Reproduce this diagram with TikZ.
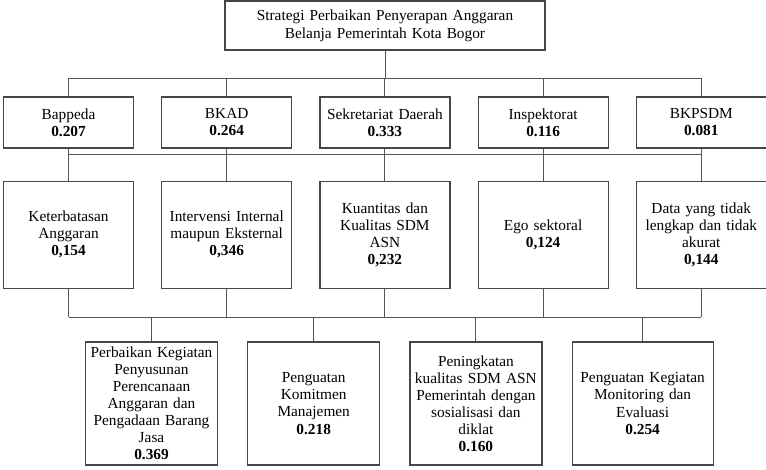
\documentclass[tikz,border=0pt]{standalone}
\usepackage{fontspec}
\setmainfont{Liberation Serif}
\usetikzlibrary{positioning}
\definecolor{boxline}{RGB}{70,70,70}
\definecolor{wire}{RGB}{85,85,85}

\begin{document}
\begin{tikzpicture}[x=0.75pt, y=-0.75pt, node distance=20.25pt]
  \tikzstyle{goal} = [rectangle, draw=boxline, line width=0.9pt, align=center, text width=236pt, minimum width=240pt, minimum height=36.75pt, inner sep=1pt, font=\fontsize{11.5}{13.5}\selectfont]
  \tikzstyle{crit} = [rectangle, draw=boxline, line width=0.9pt, align=center, text width=94pt, minimum width=97.5pt, minimum height=38.25pt, inner sep=1pt, font=\fontsize{11.5}{12.8}\selectfont]
  \tikzstyle{prob} = [crit, minimum height=80.25pt]
  \tikzstyle{alt} = [crit, text width=96pt, minimum width=99pt, minimum height=92.25pt]
  \tikzstyle{wire} = [draw=wire, line width=0.75pt]

  \useasboundingbox (0,0) rectangle (766,470);

  \node [goal] (goal) at (385,25.5) {Strategi Perbaikan Penyerapan Anggaran\\Belanja Pemerintah Kota Bogor};

  \node [crit] (bapp) at (68.5,122.5) {Bappeda\\\textbf{0.207}};
  \node [crit, right=of bapp] (bkad) {BKAD\\\textbf{0.264}};
  \node [crit, right=of bkad] (sekda) {Sekretariat Daerah\\\textbf{0.333}};
  \node [crit, right=of sekda] (insp) {Inspektorat\\\textbf{0.116}};
  \node [crit, right=of insp] (bkpsdm) {BKPSDM\\\textbf{0.081}};

  \node [prob, below=24pt of bapp] (ket) {Keterbatasan\\Anggaran\\\textbf{0,154}};
  \node [prob, below=24pt of bkad] (intv) {Intervensi Internal\\maupun Eksternal\\\textbf{0,346}};
  \node [prob, below=24pt of sekda] (kuan) {Kuantitas dan\\Kualitas SDM\\ASN\\\textbf{0,232}};
  \node [prob, below=24pt of insp] (ego) {Ego sektoral\\\textbf{0,124}};
  \node [prob, below=24pt of bkpsdm] (data) {Data yang tidak\\lengkap dan tidak\\akurat\\\textbf{0,144}};

  \node [alt] (perb) at (151.5,403.5) {Perbaikan Kegiatan\\Penyusunan\\Perencanaan\\Anggaran dan\\Pengadaan Barang\\Jasa\\\textbf{0.369}};
  \node [alt, right=21.75pt of perb] (komit) {Penguatan\\Komitmen\\Manajemen\\\textbf{0.218}};
  \node [alt, right=21.75pt of komit] (sdm) {Peningkatan\\kualitas SDM ASN\\Pemerintah dengan\\sosialisasi dan\\diklat\\\textbf{0.160}};
  \node [alt, right=21.75pt of sdm, text width=102pt, minimum width=105.75pt] (monev) {Penguatan Kegiatan\\Monitoring dan\\Evaluasi\\\textbf{0.254}};

  \coordinate (bus1) at (0,79);
  \coordinate (bus2) at (0,155);
  \coordinate (bus3) at (0,317);

  \draw[wire] (goal.south) -- (goal.south |- bus1);
  \draw[wire] (bapp.north) -- (bapp.north |- bus1) -- (bkpsdm.north |- bus1) -- (bkpsdm.north);
  \foreach \n in {bkad,sekda,insp}
    \draw[wire] (\n.north) -- (\n.north |- bus1);

  \foreach \a/\b in {bapp/ket,bkad/intv,sekda/kuan,insp/ego,bkpsdm/data}
    \draw[wire] (\a.south) -- (\b.north);
  \draw[wire] (ket.north |- bus2) -- (data.north |- bus2);

  \foreach \n in {ket,intv,kuan,ego,data}
    \draw[wire] (\n.south) -- (\n.south |- bus3);
  \draw[wire] (ket.south |- bus3) -- (data.south |- bus3);
  \foreach \n in {perb,komit,sdm,monev}
    \draw[wire] (\n.north |- bus3) -- (\n.north);
\end{tikzpicture}
\end{document}
